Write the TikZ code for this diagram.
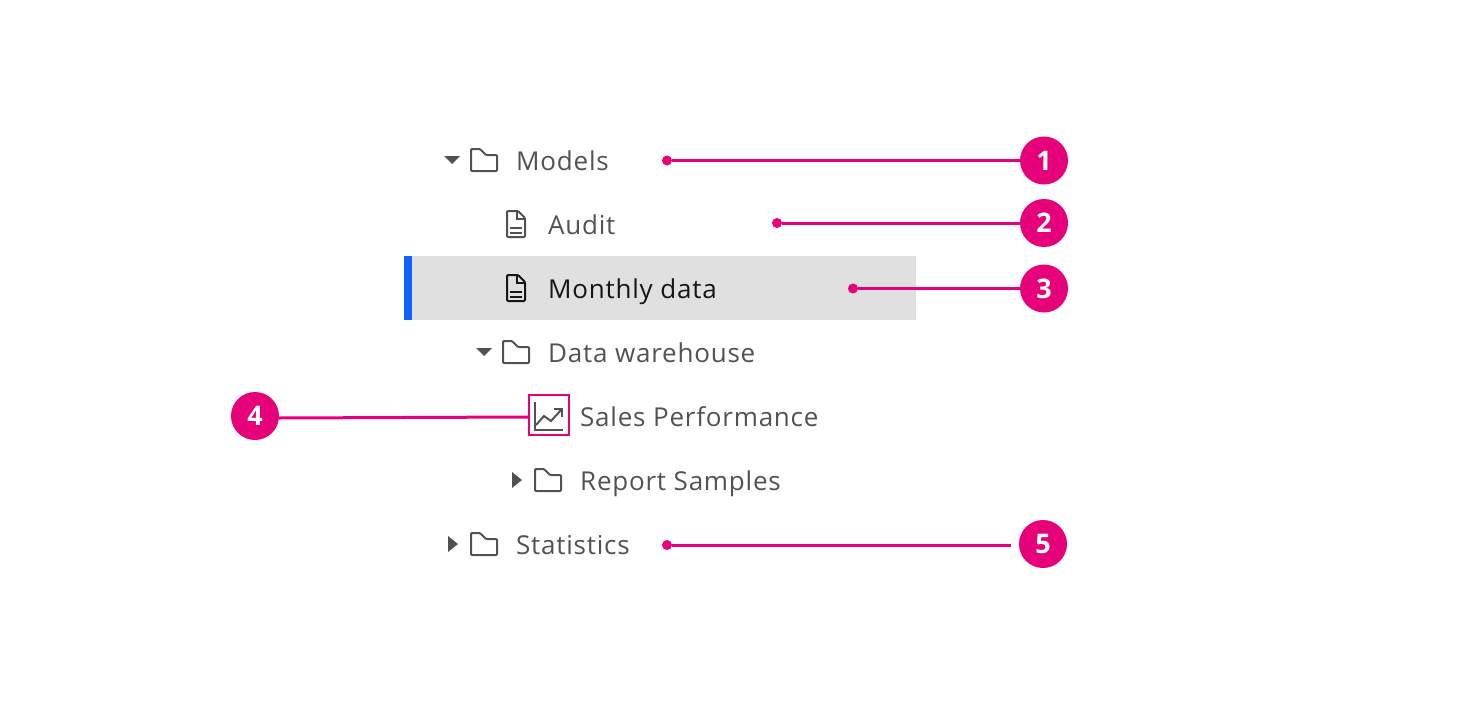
\documentclass[tikz,border=0pt]{standalone}
\usepackage{fontspec}
\setmainfont{Open Sans}[LetterSpace=3.0]
\definecolor{treegray}{HTML}{525252}
\definecolor{treedark}{HTML}{161616}
\definecolor{selgray}{HTML}{E0E0E0}
\definecolor{selblue}{HTML}{0F62FE}
\definecolor{callout}{HTML}{E6007A}
\tikzset{
	label/.style={anchor=base west,inner sep=0pt,text=treegray,font=\fontsize{26}{30}\selectfont},
	badge/.style={circle,fill=callout,text=white,minimum size=48pt,inner sep=0pt,font=\fontsize{27}{30}\selectfont\bfseries},
	dot/.style={circle,fill=callout,minimum size=10pt,inner sep=0pt},
	lead/.style={callout,line width=3pt},
	folder/.pic={
		\draw[line width=2pt,rounded corners=1pt] (-13,-11) -- (-4,-11) -- (2,-5) -- (13,-5) -- (13,11) -- (-13,11) -- cycle;
	},
	docu/.pic={
		\draw[line width=2pt,rounded corners=1pt] (-9,-13) -- (2,-13) -- (9,-6) -- (9,13) -- (-9,13) -- cycle;
		\draw[line width=2pt] (1,-13) -- (1,-5) -- (9,-5);
		\draw[line width=2pt] (-6,4) -- (6,4);
		\draw[line width=2pt] (-6,9) -- (6,9);
	},
	caretdown/.pic={\fill (-8,-4) -- (8,-4) -- (0,4) -- cycle;},
	caretright/.pic={\fill (-5,-8) -- (-5,8) -- (5,0) -- cycle;}
}
\begin{document}
\begin{tikzpicture}[x=1pt,y=-1pt]
	\useasboundingbox (0,0) rectangle (1472,704);
	% selected row
	\fill[selgray] (412,256) rectangle (916,320);
	\fill[selblue] (404,256) rectangle (412,320);
	% tree labels
	\node[label] (models) at (516,170) {Models};
	\node[label] (audit) at (548,234) {Audit};
	\node[label,text=treedark] (monthly) at (548,298) {Monthly data};
	\node[label] (warehouse) at (548,362) {Data warehouse};
	\node[label] (sales) at (580,426) {Sales Performance};
	\node[label] (samples) at (580,490) {Report Samples};
	\node[label] (statistics) at (516,554) {Statistics};
	% tree icons
	\pic[treegray] at (452,160) {caretdown};
	\pic[treegray] at (484,160) {folder};
	\pic[treegray] at (516,224) {docu};
	\pic[treedark] at (516,288) {docu};
	\pic[treegray] at (484,352) {caretdown};
	\pic[treegray] at (516,352) {folder};
	\pic[treegray] at (517,480) {caretright};
	\pic[treegray] at (548,480) {folder};
	\pic[treegray] at (453,544) {caretright};
	\pic[treegray] at (484,544) {folder};
	% chart icon
	\draw[treegray,line width=2pt] (535,402) -- (535,430) -- (563,430);
	\draw[treegray,line width=2pt] (536,425) -- (544,416) -- (551,421) -- (561,410);
	\draw[treegray,line width=2pt] (554,409) -- (562,409) -- (562,417);
	\node[draw=callout,line width=2pt,minimum size=40pt,inner sep=0pt] (chart) at (549,415) {};
	% callouts
	\node[dot] (dot1) at (667,160.5) {};
	\node[dot] (dot2) at (777,223) {};
	\node[dot] (dot3) at (853,288.5) {};
	\node[dot] (dot5) at (667,545) {};
	\node[badge] (one) at (1044,160.5) {1};
	\node[badge] (two) at (1044,223) {2};
	\node[badge] (three) at (1044,288.5) {3};
	\node[badge] (four) at (255,416) {4};
	\node[badge] (five) at (1043,544) {5};
	\coordinate (end5) at (1011,545);
	\draw[lead] (dot1) -- (one);
	\draw[lead] (dot2) -- (two);
	\draw[lead] (dot3) -- (three);
	\draw[lead] ([yshift=-2pt]four.east) -- ([yshift=-2pt]chart.west);
	\draw[lead] (dot5) -- (end5);
\end{tikzpicture}
\end{document}
